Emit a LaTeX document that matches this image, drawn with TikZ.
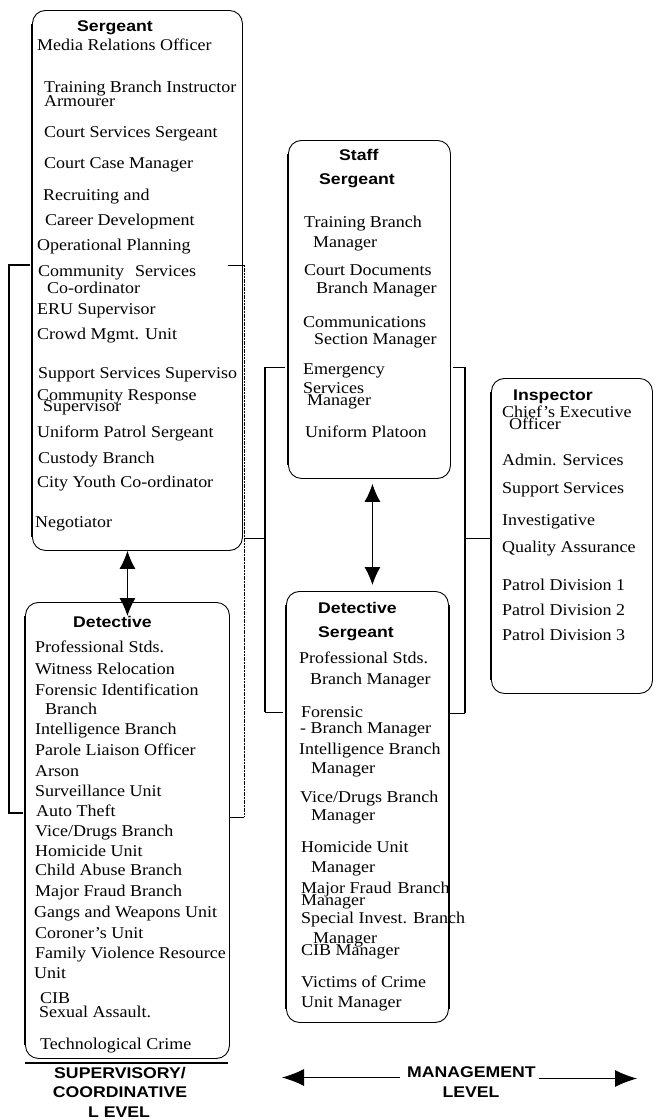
\documentclass[tikz,border=0pt]{standalone}
\usepackage{fontspec}
\setmainfont{Liberation Serif}[FakeStretch=1.09]
\newfontfamily\hdfont{Liberation Sans}[FakeStretch=1.14]
\usetikzlibrary{arrows.meta}
\tikzset{
  box/.style={draw, line width=0.9pt, rounded corners=13pt, anchor=north west, inner sep=0pt},
  itm/.style={anchor=base west, inner sep=0pt, font=\fontsize{16.5}{18}\selectfont},
  hdtxt/.style={anchor=base west, inner sep=0pt, font=\hdfont\bfseries\fontsize{15.5}{17}\selectfont},
  lvl/.style={anchor=base, inner sep=0pt, font=\hdfont\bfseries\fontsize{15.5}{17}\selectfont},
  leftedge/.style={line width=1.9pt},
  brk/.style={line width=1.4pt},
  stub/.style={line width=0.9pt},
  thinbrk/.style={line width=0.8pt, dash pattern=on 2pt off 0.7pt},
  dbl/.style={line width=0.9pt, {Latex[length=18pt,width=16pt]}-{Latex[length=18pt,width=16pt]}},
  harrow/.style={line width=1pt, -{Latex[length=22pt,width=17pt]}},
}
\begin{document}
\begin{tikzpicture}[x=1pt,y=-1pt]
\fill[white] (0,0) rectangle (654,1119);
\useasboundingbox (0,0) rectangle (654,1119);

% ---------- boxes ----------
\node[box, minimum width=210pt, minimum height=540pt] (ser) at (32,10) {};
\node[box, minimum width=204pt, minimum height=456pt] (det) at (25,602) {};
\node[box, minimum width=162pt, minimum height=338pt] (staff) at (288,140) {};
\node[box, minimum width=162pt, minimum height=431pt] (dsg) at (286,591) {};
\node[box, minimum width=161pt, minimum height=315pt] (insp) at (491,378) {};

% thicker left edges
\draw[leftedge] ([yshift=-14pt]ser.north west) -- ([yshift=14pt]ser.south west);
\draw[leftedge] ([yshift=-14pt]det.north west) -- ([yshift=14pt]det.south west);
\draw[leftedge] ([yshift=-14pt]staff.north west) -- ([yshift=14pt]staff.south west);
\draw[leftedge] ([yshift=-14pt]dsg.north west) -- ([yshift=14pt]dsg.south west);
\draw[leftedge] ([yshift=-14pt]dsg.north east) -- ([yshift=14pt]dsg.south east);
\draw[leftedge] ([yshift=-14pt]insp.north west) -- ([yshift=14pt]insp.south west);

% ---------- headings ----------
\node[hdtxt] (serh) at (77,31.7) {Sergeant};
\node[hdtxt] (deth) at (73,627) {Detective};
\node[hdtxt] (staffh1) at (339,160) {Staff};
\node[hdtxt] (staffh2) at (319,184) {Sergeant};
\node[hdtxt] (dsgh1) at (318,613) {Detective};
\node[hdtxt] (dsgh2) at (318,637) {Sergeant};
\node[hdtxt] (insph) at (513,400) {Inspector};

% ---------- Sergeant items ----------
\foreach \n/\x/\y/\s in {
  1/37/50.7/{Media Relations Officer},
  2/44/92.7/{Training Branch Instructor},
  3/44/106/{Armourer},
  4/44/137.7/{Court Services Sergeant},
  5/44/168/{Court Case Manager},
  6/43/200/{Recruiting and},
  7/45/225.7/{Career Development},
  8/37/250.7/{Operational Planning},
  9/38/276.7/{Community\hspace{11pt}Services},
  10/47/293/{Co-ordinator},
  11/37/314/{ERU Supervisor},
  12/37/339/{Crowd Mgmt. Unit},
  13/38/378/{Support Services Superviso},
  14/37/400/{Community Response},
  15/43/411.7/{Supervisor},
  16/37/437/{Uniform Patrol Sergeant},
  17/38/463/{Custody Branch},
  18/37/487/{City Youth Co-ordinator},
  19/35/527/{Negotiator}}
  \node[itm] (ser\n) at (\x,\y) {\s};

% ---------- Detective items ----------
\foreach \n/\x/\y/\s in {
  1/35/652/{Professional Stds.},
  2/35/674/{Witness Relocation},
  3/35/695/{Forensic Identification},
  4/45/714/{Branch},
  5/35/734/{Intelligence Branch},
  6/35/755/{Parole Liaison Officer},
  7/35/776/{Arson},
  8/35/796/{Surveillance Unit},
  9/36/816/{Auto Theft},
  10/35/836/{Vice/Drugs Branch},
  11/35/856/{Homicide Unit},
  12/35/875/{Child Abuse Branch},
  13/35/896/{Major Fraud Branch},
  14/34/917/{Gangs and Weapons Unit},
  15/35/938/{Coroner's Unit},
  16/35/958/{Family Violence Resource},
  17/34/978/{Unit},
  18/40/1003/{CIB},
  19/39/1017/{Sexual Assault.},
  20/40/1049/{Technological Crime}}
  \node[itm] (det\n) at (\x,\y) {\s};

% ---------- Staff Sergeant items ----------
\foreach \n/\x/\y/\s in {
  1/304/227/{Training Branch},
  2/313/247/{Manager},
  3/304/275/{Court Documents},
  4/316/293/{Branch Manager},
  5/303/327/{Communications},
  6/314/344/{Section Manager},
  7/303/374/{Emergency},
  8/303/393/{Services},
  9/307/405/{Manager},
  10/305/437/{Uniform Platoon}}
  \node[itm] (staff\n) at (\x,\y) {\s};

% ---------- Detective Sergeant items ----------
\foreach \n/\x/\y/\s in {
  1/299/663/{Professional Stds.},
  2/310/684/{Branch Manager},
  3/301/717/{Forensic},
  4/300/733/{- Branch Manager},
  5/299/754/{Intelligence Branch},
  6/311/773/{Manager},
  7/300/802/{Vice/Drugs Branch},
  8/311/820/{Manager},
  9/301/852/{Homicide Unit},
  10/311/872/{Manager},
  11/301/893/{Major Fraud\hspace{6pt}Branch},
  12/301/905/{Manager},
  13/301/923/{Special Invest. Branch},
  14/313/943/{Manager},
  15/301/955/{CIB Manager},
  16/301/987/{Victims of Crime},
  17/301/1007/{Unit Manager}}
  \node[itm] (dsg\n) at (\x,\y) {\s};

% ---------- Inspector items ----------
\foreach \n/\x/\y/\s in {
  1/502/417/{Chief's Executive},
  2/509/429/{Officer},
  3/502/465/{Admin. Services},
  4/502/493/{Support\hspace{4pt}Services},
  5/502/525/{Investigative},
  6/502/552/{Quality Assurance},
  7/502/590/{Patrol Division 1},
  8/502/615/{Patrol Division 2},
  9/502/640/{Patrol Division 3}}
  \node[itm] (insp\n) at (\x,\y) {\s};

% ---------- double arrows ----------
\draw[dbl] (ser.south -| det.north) -- ([yshift=-14pt]det.north);
\draw[dbl] ([xshift=3pt,yshift=-5pt]staff.south) -- ([xshift=3pt,yshift=6pt]staff.south |- dsg.north);

% ---------- brackets ----------
\coordinate (gAtl) at (9,265);   \coordinate (gAbl) at (9,813);
\coordinate (gAtr) at (244,265); \coordinate (gAbr) at (244,817);
\coordinate (gAmid) at (244,538);
\draw[brk] (30,265) -- (gAtl) -- (gAbl) -- (23,813);
\draw[stub] (228,265) -- (gAtr);
\draw[thinbrk] (gAtr) -- (gAbr);
\draw[stub] (gAbr) -- (230,817);

\coordinate (gBtl) at (265,367);  \coordinate (gBbl) at (265,712);
\coordinate (gBtr) at (465,367);  \coordinate (gBbr) at (465,713);
\coordinate (gBlmid) at (265,538); \coordinate (gBrmid) at (465,538);
\draw[stub] (285,367) -- (gBtl);
\draw[brk] (gBtl) -- (gBbl);
\draw[stub] (gBbl) -- (283,712);
\draw[stub] (453,367) -- (gBtr);
\draw[brk] (gBtr) -- (gBbr);
\draw[stub] (gBbr) -- (450,713);

\draw[stub] (gAmid) -- (gBlmid);
\draw[stub] (gBrmid) -- (gBrmid -| insp.west);

% ---------- level labels ----------
\draw[line width=1.3pt] ([yshift=-4pt]det.south west) -- ([yshift=-4pt,xshift=-2pt]det.south east);
\node[lvl] (sv1) at (120,1078) {SUPERVISORY/};
\node[lvl] (sv2) at (120,1097) {COORDINATIVE};
\node[lvl] (sv3) at (119,1117) {L EVEL};

\node[hdtxt] (mg) at (407,1077) {MANAGEMENT};
\node[lvl] (mglv) at (471,1097) {LEVEL};
\coordinate (mgL) at (282,1077.5);
\coordinate (mgR) at (637,1078.5);
\draw[harrow] ([xshift=-7pt,yshift=-0.5pt]mg.base west) -- (mgL);
\draw[harrow] ([xshift=3pt,yshift=-1.5pt]mg.base east) -- (mgR);
\end{tikzpicture}
\end{document}
